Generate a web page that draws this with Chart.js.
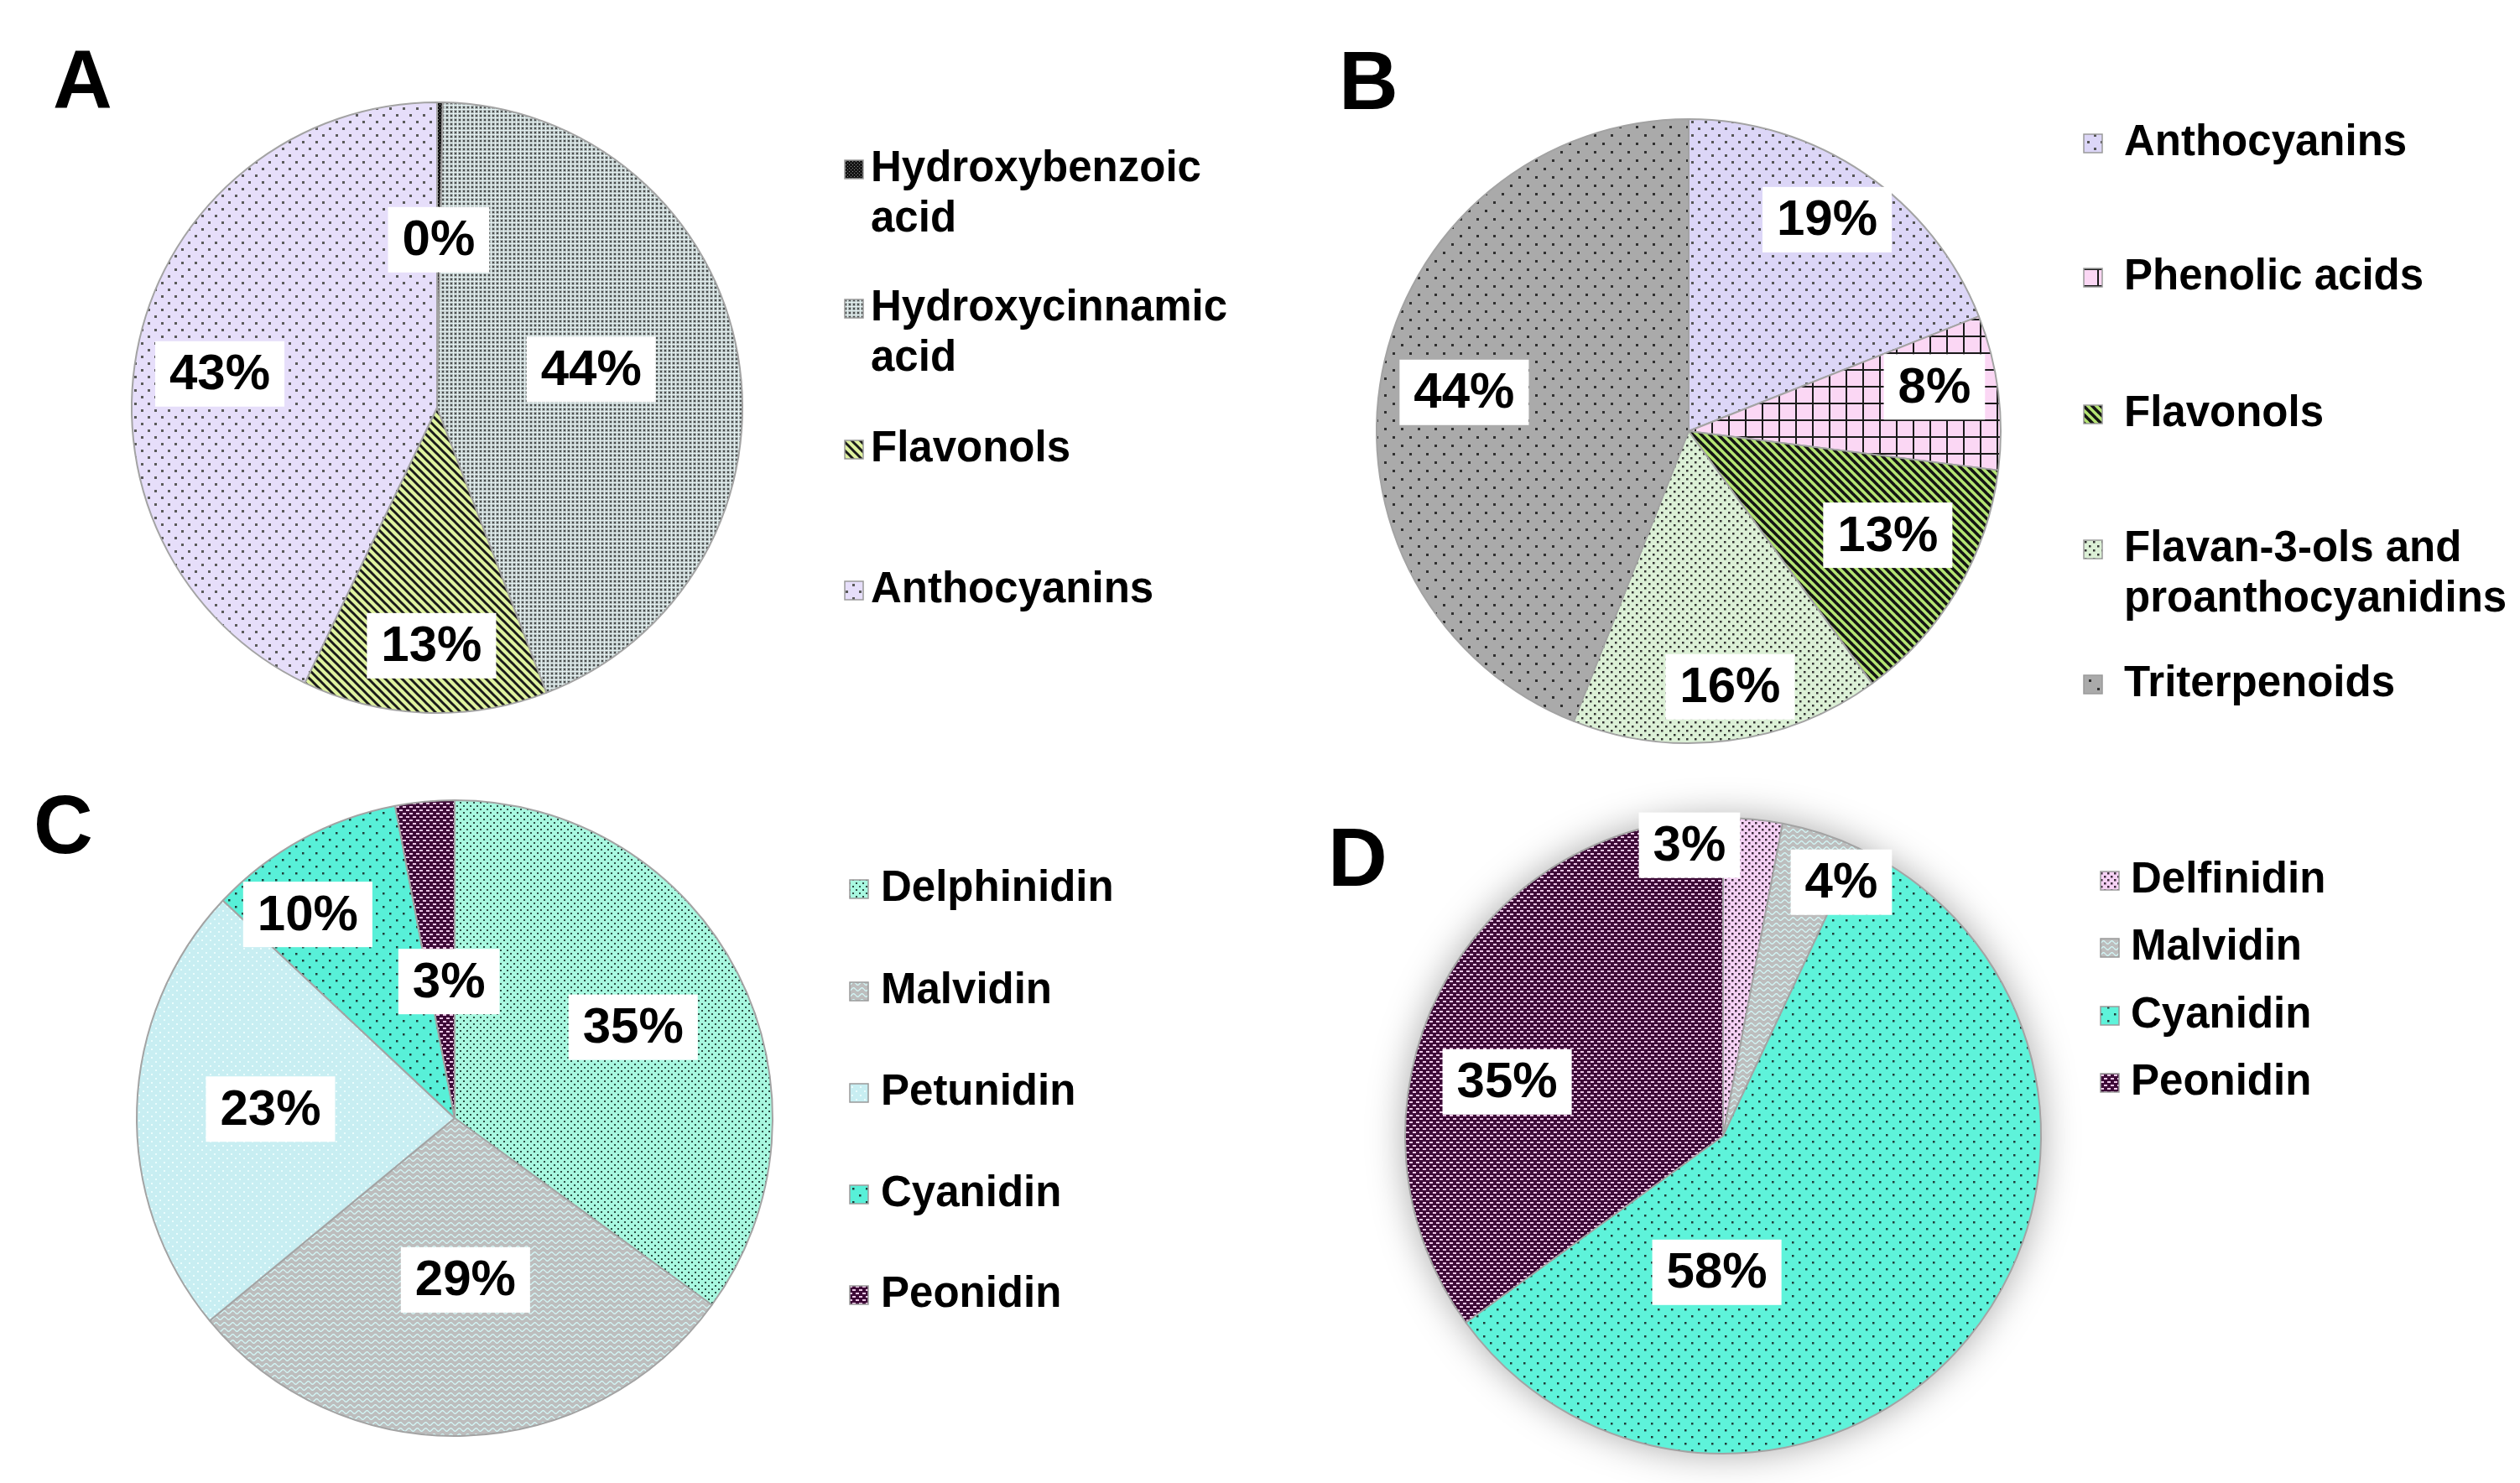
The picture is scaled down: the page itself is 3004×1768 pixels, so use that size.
<!DOCTYPE html>
<html>
<head>
<meta charset="utf-8">
<script src="https://cdn.jsdelivr.net/npm/chart.js@4.4.1/dist/chart.umd.min.js"></script>
<style>
    html, body { margin: 0; padding: 0; background: #fff; }
    #wrap { position: relative; width: 3004px; height: 1768px; overflow: hidden; }
    #wrap canvas { position: absolute; left: 0; top: 0; }
</style>
</head>
<body>
<div id="wrap">
    <canvas id="chartA" width="3004" height="1768"></canvas>
    <canvas id="chartB" width="3004" height="1768"></canvas>
    <canvas id="chartC" width="3004" height="1768"></canvas>
    <canvas id="chartD" width="3004" height="1768"></canvas>
</div>
<script>
// ── data ──
const labelsA = [['Hydroxybenzoic', 'acid'], ['Hydroxycinnamic', 'acid'], 'Flavonols', 'Anthocyanins'];
const valuesA = [0.3, 44, 13, 43];

const labelsB = ['Anthocyanins', 'Phenolic acids', 'Flavonols', ['Flavan-3-ols and', 'proanthocyanidins'], 'Triterpenoids'];
const valuesB = [19, 8, 13, 16, 44];

const labelsC = ['Delphinidin', 'Malvidin', 'Petunidin', 'Cyanidin', 'Peonidin'];
const valuesC = [35, 29, 23, 10, 3];

const labelsD = ['Delfinidin', 'Malvidin', 'Cyanidin', 'Peonidin'];
const valuesD = [3, 4, 58, 35];

const FONT = '"Liberation Sans", Arial, sans-serif';

// ── fill patterns ──
function tile(w, h, draw) {
    const c = document.createElement('canvas');
    c.width = w; c.height = h;
    const g = c.getContext('2d');
    draw(g, w, h);
    return g.createPattern(c, 'repeat');
}
function dots(bg, fg, size, d) {
    return tile(size, size, (g, w) => {
        g.fillStyle = bg; g.fillRect(0, 0, w, w);
        g.fillStyle = fg;
        g.fillRect(0, 0, d, d);
        g.fillRect(w / 2, w / 2, d, d);
    });
}
function mesh(bg, line, dot) {
    return tile(5, 5, (g, w) => {
        g.fillStyle = bg; g.fillRect(0, 0, w, w);
        g.fillStyle = line;
        g.fillRect(0, 0, w, 1);
        g.fillRect(0, 0, 1, w);
        g.fillStyle = dot;
        g.fillRect(2, 2, 2, 2);
    });
}
function stripes(bg, fg, size, lw) {
    return tile(size, size, (g, w) => {
        g.fillStyle = bg; g.fillRect(0, 0, w, w);
        g.strokeStyle = fg; g.lineWidth = lw;
        for (let k = -1; k <= 1; k++) {
            g.beginPath(); g.moveTo(k * w - 2, -2); g.lineTo(k * w + w + 2, w + 2); g.stroke();
        }
    });
}
function grid(bg, fg, size, lw) {
    return tile(size, size, (g, w) => {
        g.fillStyle = bg; g.fillRect(0, 0, w, w);
        g.fillStyle = fg;
        g.fillRect(0, 0, w, lw);
        g.fillRect(0, 0, lw, w);
    });
}
function wave(bg, fg) {
    return tile(10, 7, (g, w, h) => {
        g.fillStyle = bg; g.fillRect(0, 0, w, h);
        g.strokeStyle = fg; g.lineWidth = 1.4;
        g.beginPath();
        for (let x = 0; x <= w; x++) {
            const y = 3.5 + 1.8 * Math.sin(x / w * Math.PI * 2);
            x === 0 ? g.moveTo(x, y) : g.lineTo(x, y);
        }
        g.stroke();
    });
}
function dashes(bg, fg) {
    return tile(8, 8, (g, w) => {
        g.fillStyle = bg; g.fillRect(0, 0, w, w);
        g.fillStyle = fg;
        g.fillRect(0, 1, 4, 2);
        g.fillRect(4, 5, 4, 2);
    });
}

const malvidinFill = wave('#bdbdbd', '#d2f5f5');
const peonidinFill = dashes('#3d0b37', '#eec8e8');

const fillsA = [
    dots('#151515', '#8a8a8a', 4, 1),
    mesh('#aab2b2', '#e6f4f4', '#4a5050'),
    stripes('#dff2a0', '#1a1a1a', 10, 3),
    dots('#e6defa', '#5a5a5a', 16, 3)
];
const fillsB = [
    dots('#dcd6f7', '#555555', 16, 3),
    grid('#fbd7f4', '#1a1a1a', 20, 2),
    stripes('#b5e573', '#141414', 10, 3.6),
    dots('#dcf0d6', '#333333', 10, 2.5),
    dots('#aaaaaa', '#303030', 20, 3)
];
const fillsC = [
    dots('#a8f8e0', '#2d4d44', 8, 2),
    malvidinFill,
    dots('#c8eef2', '#eafcfc', 10, 2),
    dots('#58f0d8', '#1e3c38', 16, 2.5),
    peonidinFill
];
const fillsD = [
    dots('#f6d2f5', '#3a2a3a', 8, 2.5),
    malvidinFill,
    dots('#5ef3da', '#1e3c38', 16, 2.5),
    peonidinFill
];

// ── letter, value boxes and legend drawn on the chart canvas ──
const panelDecor = {
    id: 'panelDecor',
    beforeDatasetsDraw(chart, args, o) {
        if (!o.shadow) return;
        const arc = chart.getDatasetMeta(0).data[0];
        const { x, y, outerRadius } = arc.getProps(['x', 'y', 'outerRadius'], true);
        const ctx = chart.ctx;
        ctx.save();
        ctx.shadowColor = 'rgba(0,0,0,0.35)';
        ctx.shadowBlur = 45;
        ctx.fillStyle = '#fff';
        ctx.beginPath(); ctx.arc(x, y, outerRadius, 0, Math.PI * 2); ctx.fill();
        ctx.restore();
    },
    afterDatasetsDraw(chart, args, o) {
        const ctx = chart.ctx;
        const ds = chart.data.datasets[0];
        const total = ds.data.reduce((a, b) => a + b, 0);
        ctx.save();
        ctx.font = 'bold 60px ' + FONT;
        ctx.textAlign = 'center';
        ctx.textBaseline = 'middle';
        chart.getDatasetMeta(0).data.forEach((arc, i) => {
            const p = arc.getProps(['x', 'y', 'startAngle', 'endAngle', 'outerRadius'], true);
            const [frac, shift] = o.place[i];
            const a = (p.startAngle + p.endAngle) / 2 + shift * Math.PI / 180;
            const lx = p.x + Math.cos(a) * p.outerRadius * frac;
            const ly = p.y + Math.sin(a) * p.outerRadius * frac;
            const txt = Math.round(ds.data[i] / total * 100) + '%';
            const w = ctx.measureText(txt).width + 34;
            ctx.fillStyle = '#fff';
            ctx.fillRect(lx - w / 2, ly - 39, w, 78);
            ctx.fillStyle = '#000';
            ctx.fillText(txt, lx, ly + 2);
        });
        ctx.restore();
    },
    afterDraw(chart, args, o) {
        const ctx = chart.ctx;
        const ds = chart.data.datasets[0];
        ctx.save();
        ctx.fillStyle = '#000';
        ctx.textBaseline = 'alphabetic';
        ctx.font = 'bold 98px ' + FONT;
        ctx.fillText(o.letter, o.letterX, o.letterY);

        ctx.font = 'bold 51px ' + FONT;
        ctx.textBaseline = 'middle';
        chart.data.labels.forEach((lab, i) => {
            const y = o.rows[i];
            ctx.fillStyle = ds.backgroundColor[i];
            ctx.fillRect(o.markX, y - 11, 22, 22);
            ctx.strokeStyle = '#9a9a9a';
            ctx.lineWidth = 1.5;
            ctx.strokeRect(o.markX, y - 11, 22, 22);
            ctx.fillStyle = '#000';
            const lines = Array.isArray(lab) ? lab : [lab];
            lines.forEach((ln, k) => ctx.fillText(ln, o.textX, y + k * 60));
        });
        ctx.restore();
    }
};

function pieChart(id, labels, values, fills, cx, cy, r, decor) {
    return new Chart(document.getElementById(id), {
        type: 'pie',
        data: {
            labels,
            datasets: [{
                data: values,
                backgroundColor: fills,
                borderColor: '#a3a3a3',
                borderWidth: 2,
            }]
        },
        options: {
            responsive: false,
            animation: false,
            devicePixelRatio: 1,
            events: [],
            layout: {
                padding: { left: cx - r, top: cy - r, right: 3004 - cx - r, bottom: 1768 - cy - r }
            },
            plugins: {
                legend: { display: false },
                tooltip: { enabled: false },
                panelDecor: decor
            }
        },
        plugins: [panelDecor]
    });
}

pieChart('chartA', labelsA, valuesA, fillsA, 521, 486, 365, {
    letter: 'A', letterX: 63, letterY: 128,
    markX: 1007, textX: 1038, rows: [202, 368, 536, 704],
    place: [[0.55, 0], [0.52, -4], [0.78, -1], [0.72, -4]]
});

pieChart('chartB', labelsB, valuesB, fillsB, 2013, 514, 373, {
    letter: 'B', letterX: 1596, letterY: 130,
    markX: 2484, textX: 2532, rows: [171, 331, 494, 655, 816],
    place: [[0.81, -1], [0.80, -3], [0.72, -3], [0.83, -2], [0.73, -1]]
});

pieChart('chartC', labelsC, valuesC, fillsC, 542, 1333, 380, {
    letter: 'C', letterX: 40, letterY: 1017,
    markX: 1013, textX: 1050, rows: [1060, 1182, 1303, 1424, 1544],
    place: [[0.63, 0], [0.51, -2], [0.58, 1], [0.79, -7], [0.43, 3]]
});

pieChart('chartD', labelsD, valuesD, fillsD, 2054, 1354, 380, {
    letter: 'D', letterX: 1583, letterY: 1056, shadow: true,
    markX: 2504, textX: 2540, rows: [1050, 1130, 1211, 1291],
    place: [[0.92, -12], [0.88, 7], [0.43, 53], [0.70, -13]]
});
</script>
</body>
</html>
